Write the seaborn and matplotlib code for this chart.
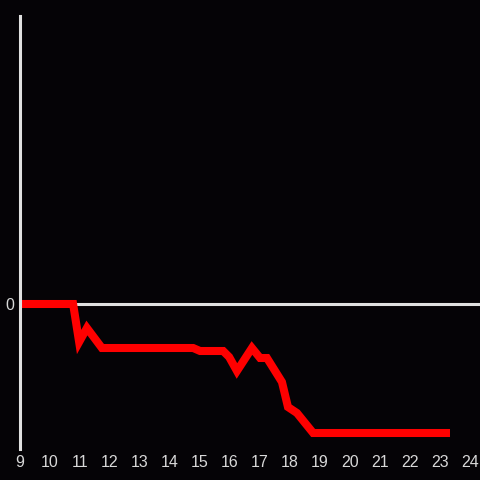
import seaborn as sns
import matplotlib.pyplot as plt
import pandas as pd

hours = [9.0, 10.77, 10.97, 11.23, 11.73, 14.77, 15.0, 15.77, 15.97, 16.23,
         16.73, 17.0, 17.23, 17.73, 17.93, 18.23, 18.77, 23.33]
values = [0.0, 0.0, -3.8, -2.4, -4.4, -4.4, -4.7, -4.7, -5.3, -6.7,
          -4.4, -5.4, -5.4, -7.8, -10.3, -10.9, -12.9, -12.9]
xticks = list(range(9, 25))

df = pd.DataFrame({'hour': hours, 'value': values})

bg = '#050306'
fg = '#e0e0e0'
sns.set_style('dark', {'axes.facecolor': bg, 'figure.facecolor': bg})
plt.rcParams['font.family'] = ['Liberation Sans', 'DejaVu Sans']

fig = plt.figure(figsize=(4.8, 4.8), dpi=100)
ax = fig.add_axes([20 / 480, 31 / 480, 460 / 480, 433 / 480])

ax.axhline(0, color=fg, lw=2.2, zorder=1)
sns.lineplot(data=df, x='hour', y='value', color='#ff0000', lw=5.8, ax=ax, zorder=3,
             solid_capstyle='butt', solid_joinstyle='miter')

ax.set_xlim(9, 24.33)
ax.set_ylim(-14.5, 28.8)
ax.set_xticks(xticks)
ax.set_xticklabels([str(t) for t in xticks])
ax.set_yticks([0])
ax.set_yticklabels(['0'])
ax.tick_params(length=0, colors='#d8d8d8', labelsize=11.5)
ax.tick_params(axis='x', pad=4)
ax.tick_params(axis='y', pad=4)
ax.set(xlabel='', ylabel='')
ax.grid(False)

for s in ['top', 'right', 'bottom']:
    ax.spines[s].set_visible(False)
ax.spines['left'].set_color(fg)
ax.spines['left'].set_linewidth(2.2)
ax.spines['left'].set_zorder(4)

fig.savefig('out.png', dpi=100, facecolor=bg)
